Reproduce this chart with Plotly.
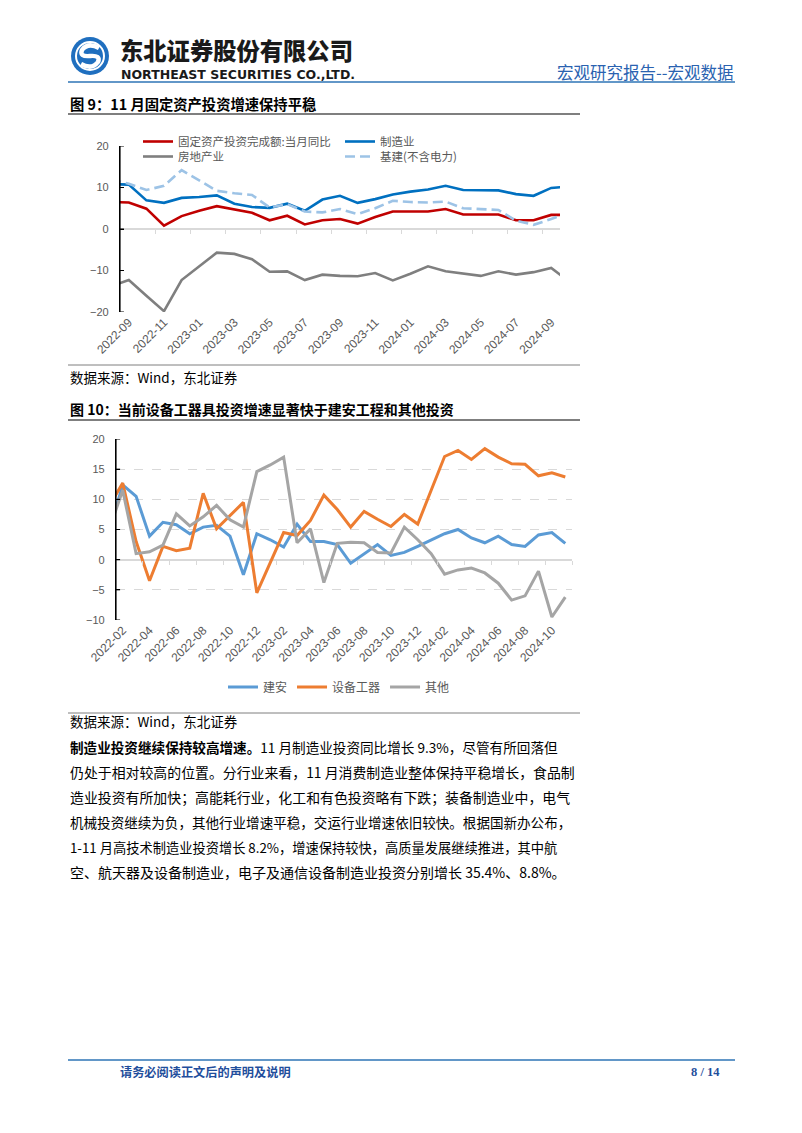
import plotly.graph_objects as go

W, H = 802, 1133
def fx(x): return x / W
def fy(y): return 1 - y / H

# ---------------- Figure 9 data (monthly, 2022-08 ... 2024-10) ----------------
f9_months = ["2022-08", "2022-09", "2022-10", "2022-11", "2022-12",
             "2023-01", "2023-02", "2023-03", "2023-04", "2023-05", "2023-06",
             "2023-07", "2023-08", "2023-09", "2023-10", "2023-11", "2023-12",
             "2024-01", "2024-02", "2024-03", "2024-04", "2024-05", "2024-06",
             "2024-07", "2024-08", "2024-09", "2024-10"]
fai_total = [6.5, 6.4, 4.9, 0.8, 3.1, 4.4, 5.5, 4.7, 3.9, 2.1, 3.2, 1.1, 2.1, 2.4,
             1.3, 2.9, 4.2, 4.2, 4.2, 4.8, 3.5, 3.5, 3.5, 2.1, 2.1, 3.4, 3.4]
fai_mfg = [10.8, 10.7, 6.9, 6.3, 7.5, 7.7, 8.1, 6.1, 5.3, 5.1, 6.1, 4.4, 7.1, 8.0,
           6.3, 7.2, 8.3, 9.0, 9.5, 10.4, 9.4, 9.4, 9.3, 8.4, 8.0, 9.9, 10.2]
fai_re = [-13.8, -12.3, -16.1, -19.8, -12.3, -9.0, -5.7, -6.0, -7.3, -10.3, -10.2,
          -12.3, -11.0, -11.3, -11.4, -10.6, -12.4, -10.8, -9.0, -10.2, -10.8,
          -11.3, -10.2, -11.0, -10.4, -9.4, -12.6]
fai_infra = [12.0, 10.9, 9.4, 10.4, 14.2, 11.8, 9.2, 8.6, 8.2, 5.2, 6.0, 4.2, 4.0,
             4.8, 3.6, 5.0, 6.8, 6.5, 6.4, 6.6, 5.0, 4.8, 4.6, 2.0, 1.0, 2.4, 4.0]
f9_names = ["固定资产投资完成额:当月同比", "制造业", "房地产业", "基建(不含电力)"]
f9_yticks = [-20, -10, 0, 10, 20]

# ---------------- Figure 10 data (monthly, 2022-01 ... 2024-11) ----------------
f10_months = ["2022-01", "2022-02", "2022-03", "2022-04", "2022-05", "2022-06",
              "2022-07", "2022-08", "2022-09", "2022-10", "2022-11", "2022-12",
              "2023-01", "2023-02", "2023-03", "2023-04", "2023-05", "2023-06",
              "2023-07", "2023-08", "2023-09", "2023-10", "2023-11", "2023-12",
              "2024-01", "2024-02", "2024-03", "2024-04", "2024-05", "2024-06",
              "2024-07", "2024-08", "2024-09", "2024-10", "2024-11"]
jianan = [4.8, 12.4, 10.5, 3.9, 6.2, 5.8, 4.3, 5.4, 5.7, 3.9, -2.5, 4.3, 3.3, 2.1,
          5.9, 3.0, 3.0, 2.5, -0.6, 1.0, 2.5, 0.7, 1.2, 2.2, 3.3, 4.3, 5.0, 3.6,
          2.8, 3.9, 2.5, 2.2, 4.1, 4.5, 2.7]
shebei = [8.9, 12.7, 3.0, -3.5, 2.2, 1.5, 1.9, 11.0, 5.1, 7.3, 9.5, -5.5, -0.5, 4.5,
          4.0, 6.5, 10.7, 8.3, 5.4, 8.0, 6.7, 5.5, 7.5, 5.9, 11.5, 17.1, 18.1, 16.6,
          18.4, 17.0, 15.9, 15.8, 13.9, 14.4, 13.7]
qita = [5.1, 11.5, 1.0, 1.3, 2.4, 7.6, 5.6, 7.1, 9.0, 6.6, 5.4, 14.6, 15.7, 17.0,
        2.8, 5.1, -3.8, 2.7, 2.9, 2.8, 1.2, 1.1, 5.4, 3.3, 1.0, -2.4, -1.7, -1.4,
        -2.2, -3.9, -6.7, -6.0, -1.9, -9.5, -6.2]
f10_names = ["建安", "设备工器", "其他"]
f10_yticks = [-10, -5, 0, 5, 10, 15, 20]

GREY_TXT = "#595959"
CJK = "Noto Sans CJK SC"

fig = go.Figure()

# ---- Figure 9 traces ----
x9 = list(range(len(f9_months)))
styles9 = [dict(color="#C00000", width=2.6),
           dict(color="#0070C0", width=2.6),
           dict(color="#7F7F7F", width=2.6),
           dict(color="#9DC3E6", width=2.6, dash="10px,5px")]
series9 = [fai_total, fai_mfg, fai_re, fai_infra]
legends9 = ["legend", "legend", "legend2", "legend2"]
for name, ys, st, lg in zip(f9_names, series9, styles9, legends9):
    fig.add_trace(go.Scatter(x=x9, y=ys, name=name, mode="lines", line=st,
                             xaxis="x", yaxis="y", legend=lg, hoverinfo="skip"))
# helper subplot carrying the category tick marks on the zero line
fig.add_trace(go.Scatter(x=[None], y=[None], xaxis="x3", yaxis="y3",
                         showlegend=False, hoverinfo="skip"))

# ---- Figure 10 traces ----
x10 = list(range(len(f10_months)))
colors10 = ["#5B9BD5", "#ED7D31", "#A5A5A5"]
for name, ys, c in zip(f10_names, [jianan, shebei, qita], colors10):
    fig.add_trace(go.Scatter(x=x10, y=ys, name=name, mode="lines",
                             line=dict(color=c, width=3),
                             xaxis="x2", yaxis="y2", legend="legend3", hoverinfo="skip"))
fig.add_trace(go.Scatter(x=[None], y=[None], xaxis="x4", yaxis="y4",
                         showlegend=False, hoverinfo="skip"))

# ---- axes ----
lab9_idx = list(range(1, len(f9_months) - 1, 2))
lab10_idx = list(range(1, len(f10_months) - 1, 2))
tickfont_x = dict(family="Liberation Sans, Arial", size=12, color=GREY_TXT)
tickfont_y = dict(family="Liberation Sans, Arial", size=11, color=GREY_TXT)
r9 = [0.5, len(f9_months) - 1.5]
r10 = [0.5, len(f10_months) - 0.5]

fig.update_layout(template="none")
fig.update_layout(
    # chart 1 plot area: x 120..560, y 146..312
    xaxis=dict(domain=[fx(120), fx(560)], range=r9, anchor="y",
               tickvals=lab9_idx, ticktext=[f9_months[i] for i in lab9_idx],
               tickangle=-45, showline=False, showgrid=False, zeroline=False,
               ticks="", tickfont=tickfont_x, automargin=False),
    yaxis=dict(domain=[fy(312), fy(146)], range=[-20, 20], anchor="x",
               tickvals=f9_yticks, showline=True, linecolor="black",
               linewidth=1.2, ticks="inside", ticklen=4, tickcolor="black",
               showgrid=False, zeroline=True, zerolinecolor="#D9D9D9",
               zerolinewidth=1.5, tickfont=tickfont_y, ticklabelstandoff=8,
               automargin=False),
    xaxis3=dict(domain=[fx(120), fx(560)], range=r9, anchor="y3",
                tickvals=[i + 1.5 for i in lab9_idx[:-1]], ticks="outside",
                ticklen=4, tickcolor="#D9D9D9", showticklabels=False,
                showline=False, showgrid=False, zeroline=False, automargin=False),
    yaxis3=dict(domain=[fy(229.2), fy(228)], visible=False, anchor="x3",
                automargin=False),
    # chart 2 plot area: x 116..572, y 439..620
    xaxis2=dict(domain=[fx(116), fx(572)], range=r10, anchor="y2",
                tickvals=lab10_idx, ticktext=[f10_months[i] for i in lab10_idx],
                tickangle=-45, showline=False, showgrid=False, zeroline=False,
                ticks="", tickfont=tickfont_x, automargin=False),
    yaxis2=dict(domain=[fy(620), fy(439)], range=[-10, 20], anchor="x2",
                tickvals=f10_yticks, showline=True, linecolor="black",
                linewidth=1.2, ticks="inside", ticklen=4, tickcolor="black",
                showgrid=True, gridcolor="#D9D9D9", griddash="dash", gridwidth=1,
                zeroline=True, zerolinecolor="#D9D9D9", zerolinewidth=1.5,
                tickfont=tickfont_y, ticklabelstandoff=8, automargin=False),
    xaxis4=dict(domain=[fx(116), fx(572)], range=r10, anchor="y4",
                tickvals=[i + 1.5 for i in lab10_idx], ticks="outside",
                ticklen=4, tickcolor="#D9D9D9", showticklabels=False,
                showline=False, showgrid=False, zeroline=False, automargin=False),
    yaxis4=dict(domain=[fy(559.8), fy(558.6)], visible=False, anchor="x4",
                automargin=False),
)

legfont = dict(family=CJK, size=11.5, color=GREY_TXT)
fig.update_layout(
    legend=dict(x=fx(138), y=fy(127), xanchor="left", yanchor="top", orientation="h",
                entrywidth=157, entrywidthmode="pixels", font=legfont,
                bgcolor="rgba(0,0,0,0)", tracegroupgap=0),
    legend2=dict(x=fx(138), y=fy(142), xanchor="left", yanchor="top", orientation="h",
                 entrywidth=157, entrywidthmode="pixels", font=legfont,
                 bgcolor="rgba(0,0,0,0)", tracegroupgap=0),
    legend3=dict(x=fx(339), y=fy(687), xanchor="center", yanchor="middle",
                 orientation="h", font=dict(family=CJK, size=12, color=GREY_TXT),
                 bgcolor="rgba(0,0,0,0)"),
)

# ---- page decorations ----
shapes = []
def hline(y, x0, x1, color, width):
    shapes.append(dict(type="line", xref="paper", yref="paper", x0=fx(x0), x1=fx(x1),
                       y0=fy(y), y1=fy(y), line=dict(color=color, width=width)))
hline(82, 68, 735, "#2E75B6", 1.5)     # header rule
hline(114, 68, 580, "#000000", 1.2)    # fig 9 title rule
hline(365, 68, 580, "#7F7F7F", 1)      # fig 9 source rule
hline(420, 68, 580, "#000000", 1.2)    # fig 10 title rule
hline(713, 68, 580, "#7F7F7F", 1)      # fig 10 source rule
hline(1060, 68, 735, "#2E75B6", 1.5)   # footer rule

# value-axis lines and inside tick marks (drawn on each chart's own axes)
for xa, ya, tv in [("x", "y", f9_yticks), ("x2", "y2", f10_yticks)]:
    shapes.append(dict(type="line", xref=f"{xa} domain", yref=f"{ya} domain",
                       x0=0, x1=0, y0=0, y1=1, line=dict(color="black", width=1.2)))
    for v in tv:
        shapes.append(dict(type="line", xref=f"{xa} domain", yref=ya,
                           x0=0, x1=0.009, y0=v, y1=v, line=dict(color="black", width=1)))

# logo
cx, cy, r = 90, 56, 19
shapes.append(dict(type="circle", xref="paper", yref="paper",
                   x0=fx(cx - r), x1=fx(cx + r), y0=fy(cy + r), y1=fy(cy - r),
                   fillcolor="#1F6FBF", line=dict(width=0)))
shapes.append(dict(type="circle", xref="paper", yref="paper",
                   x0=fx(cx - 14), x1=fx(cx + 14), y0=fy(cy + 14), y1=fy(cy - 14),
                   fillcolor="rgba(0,0,0,0)", line=dict(color="white", width=2)))
def P(x, y): return f"{fx(x):.5f},{fy(y):.5f}"
spath = ("M " + P(cx + 9, cy - 8) + " Q " + P(cx - 2, cy - 14) + " " + P(cx - 8, cy - 6) +
         " Q " + P(cx - 11, cy + 1) + " " + P(cx, cy) +
         " Q " + P(cx + 11, cy - 1) + " " + P(cx + 8, cy + 6) +
         " Q " + P(cx + 2, cy + 14) + " " + P(cx - 9, cy + 8))
shapes.append(dict(type="path", xref="paper", yref="paper", path=spath,
                   line=dict(color="white", width=4.5)))
fig.update_layout(shapes=shapes)

ann = []
def text(x, y, s, size, color="#000000", xanchor="left", weight="normal", family=CJK):
    ann.append(dict(x=fx(x), y=fy(y), xref="paper", yref="paper", text=s,
                    showarrow=False, xanchor=xanchor, yanchor="middle",
                    font=dict(family=family, size=size, color=color, weight=weight)))

text(118, 50, "东北证券股份有限公司", 23.3, "#1A1A1A", weight=900)
text(119, 74, "NORTHEAST SECURITIES CO.,LTD.", 12.5, "#1A1A1A", weight="bold",
     family="DejaVu Sans")
text(735, 72, "宏观研究报告--宏观数据", 16.5, "#2A62B0", xanchor="right")

text(68, 103, "图 9：11 月固定资产投资增速保持平稳", 14.3, weight="bold")
text(68, 377, "数据来源：Wind，东北证券", 13.5)
text(68, 409, "图 10：当前设备工器具投资增速显著快于建安工程和其他投资", 14, weight="bold")
text(68, 721, "数据来源：Wind，东北证券", 13.5)

para = [
    "<b>制造业投资继续保持较高增速。</b>11 月制造业投资同比增长 9.3%，尽管有所回落但",
    "仍处于相对较高的位置。分行业来看，11 月消费制造业整体保持平稳增长，食品制",
    "造业投资有所加快；高能耗行业，化工和有色投资略有下跌；装备制造业中，电气",
    "机械投资继续为负，其他行业增速平稳，交运行业增速依旧较快。根据国新办公布，",
    "1-11 月高技术制造业投资增长 8.2%，增速保持较快，高质量发展继续推进，其中航",
    "空、航天器及设备制造业，电子及通信设备制造业投资分别增长 35.4%、8.8%。",
]
para_sizes = [13.6, 13.9, 13.9, 13.55, 13.25, 14.0]
for i, (line, sz) in enumerate(zip(para, para_sizes)):
    text(68, 747 + 25 * i, line, sz)

text(118, 1072, "请务必阅读正文后的声明及说明", 12.2, "#1F4E9C", weight="bold")
text(722, 1072, "8 / 14", 12.5, "#1F4E9C", xanchor="right", weight="bold",
     family="Liberation Serif, Times New Roman")
fig.update_layout(annotations=ann)

fig.update_layout(width=W, height=H, margin=dict(l=0, r=0, t=0, b=0, autoexpand=False),
                  paper_bgcolor="white", plot_bgcolor="rgba(0,0,0,0)",
                  font=dict(family=CJK), showlegend=True)

fig.write_html("out.html", config={"displayModeBar": False},
               post_script="document.body.style.margin='0';")
